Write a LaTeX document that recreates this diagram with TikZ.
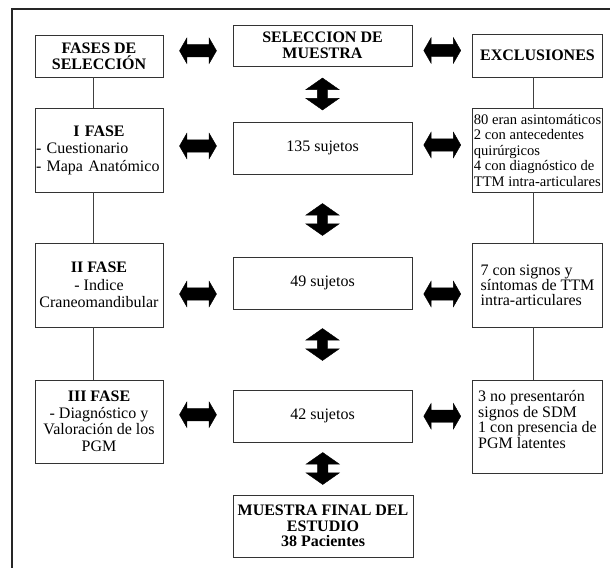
\documentclass[tikz,border=0pt]{standalone}
\usepackage{fontspec}
\setmainfont{Liberation Serif}
\usetikzlibrary{calc,shapes.arrows}
\tikzset{box/.style = {draw=black!80, line width=0.9pt, fill=white, rectangle, inner sep=3pt,
                       font=\fontsize{16}{16}\selectfont},
         fbox/.style = {box, minimum width=128pt, align=center,
                        font=\fontsize{16}{17.5}\selectfont},
         mbox/.style = {box, minimum width=179pt, minimum height=52pt, align=center},
         ebox/.style = {box, minimum width=130pt, align=left},
         harrow/.style = {draw, fill=black, double arrow, inner xsep=0pt, inner ysep=6pt, minimum height=37pt,
                          double arrow head extend=6.5pt, double arrow tip angle=120},
         varrow/.style = {harrow, rotate=90, minimum height=32pt, inner ysep=5pt,
                          double arrow head extend=11.5pt, double arrow tip angle=110},
         link/.style = {draw=black!75, line width=0.9pt}}
\begin{document}
\begin{tikzpicture}[x=1pt,y=-1pt]
        \useasboundingbox (0,0) rectangle (610,568);
        \draw[line width=1.2pt,black!85](610,9)--(12,9)--(12,568);
        % fases
        \node[fbox,minimum height=42pt,font=\fontsize{16}{16}\selectfont\bfseries](fases)at(99,56){FASES DE\\SELECCIÓN};
        \node[fbox,minimum height=84pt,text width=126pt,inner xsep=1pt](f1)at(99,150){\textbf{I FASE}\\- Cuestionario\hfill\null\\- Mapa Anatómico\hfill\null};
        \node[fbox,minimum height=84pt](f2)at(99,285){\textbf{II FASE}\\- Indice\\Craneomandibular};
        \node[fbox,minimum height=83pt,font=\fontsize{16}{16.5}\selectfont](f3)at(99,421.5){\textbf{III FASE}\\- Diagnóstico y\\Valoración de los\\PGM};
        % muestra
        \node[mbox,minimum height=41pt,font=\fontsize{16}{16}\selectfont\bfseries](sel)at(322.5,45.5){SELECCION DE\\MUESTRA};
        \node[mbox](m1)at(322.5,148){135 sujetos};
        \node[mbox](m2)at(322.5,283){49 sujetos};
        \node[mbox](m3)at(322.5,416){42 sujetos};
        \node[mbox,minimum width=180pt,minimum height=62pt,font=\fontsize{16}{15.5}\selectfont\bfseries](fin)at(323,526){MUESTRA FINAL DEL\\ESTUDIO\\38 Pacientes};
        % exclusiones
        \node[ebox,minimum height=43pt,align=center,font=\fontsize{16}{16}\selectfont\bfseries](exc)at(537.5,55.5){EXCLUSIONES};
        \node[ebox,minimum height=84pt,inner xsep=1pt,font=\fontsize{14.6}{15.5}\selectfont](e1)at(537.5,150){80 eran asintomáticos\\2 con antecedentes\\quirúrgicos\\4 con diagnóstico de\\TTM intra-articulares};
        \node[ebox,minimum height=84pt,font=\fontsize{16}{15}\selectfont](e2)at(537.5,285){7 con signos y\\síntomas de TTM\\intra-articulares};
        \node[ebox,minimum height=93pt,text depth=14pt,font=\fontsize{16}{15.5}\selectfont](e3)at(537.5,426.5){3 no presentarón\\signos de SDM\\1 con presencia de\\PGM latentes};
        % lineas
        \draw[link]([xshift=-6pt]fases.south)--([xshift=-6pt]f1.north);
        \draw[link]([xshift=-6pt]f1.south)--([xshift=-6pt]f2.north);
        \draw[link]([xshift=-6pt]f2.south)--([xshift=-6pt]f3.north);
        \draw[link]([xshift=-4.5pt]exc.south)--([xshift=-4.5pt]e1.north);
        \draw[link]([xshift=-4.5pt]e1.south)--([xshift=-4.5pt]e2.north);
        \draw[link]([xshift=-4.5pt]e2.south)--([xshift=-4.5pt]e3.north);
        % flechas
        \node[harrow](a1)at($(fases.east)!.5!(sel.west)$){};
        \node[harrow](b1)at($(sel.east)!.5!(exc.west)$){};
        \node[harrow](a2)at($(f1.east)!.5!(m1.west)+(0,-3)$){};
        \node[harrow](b2)at($(m1.east)!.5!(e1.west)+(0,-4)$){};
        \node[harrow](a3)at($(f2.east)!.5!(m2.west)+(0,10)$){};
        \node[harrow](b3)at($(m2.east)!.5!(e2.west)+(0,10)$){};
        \node[harrow](a4)at($(f3.east)!.5!(m3.west)+(0,-4)$){};
        \node[harrow](b4)at($(m3.east)!.5!(e3.west)+(0,-5)$){};
        \node[varrow](v1)at($(sel.south)!.5!(m1.north)$){};
        \node[varrow](v2)at($(m1.south)!.5!(m2.north)+(0,4)$){};
        \node[varrow](v3)at($(m2.south)!.5!(m3.north)+(0,-5)$){};
        \node[varrow](v4)at($(m3.south)!.5!(fin.north)$){};
\end{tikzpicture}
\end{document}
